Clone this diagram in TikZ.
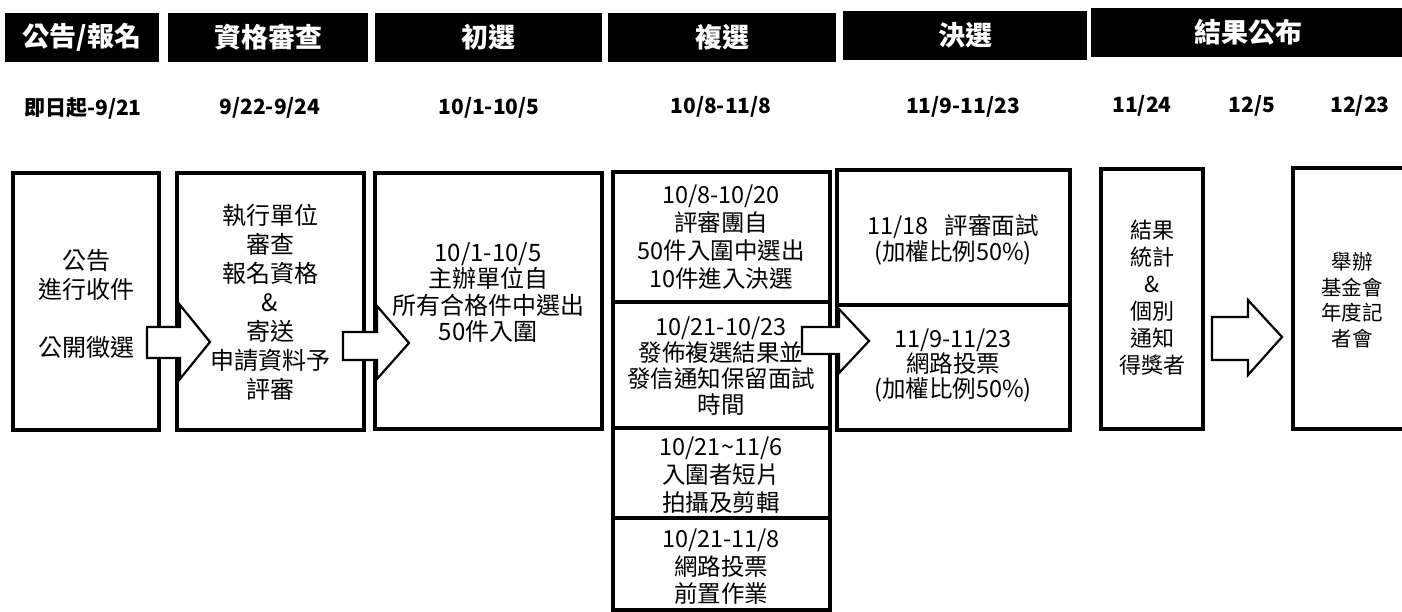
\documentclass[tikz,border=0pt]{standalone}
\usepackage{fontspec}
\setmainfont{Noto Sans CJK TC}
\begin{document}
\begin{tikzpicture}[x=1pt,y=-1pt,
  hdr/.style={fill=black, text=white, font=\bfseries\fontsize{27}{30}\selectfont, inner sep=0pt, outer sep=0pt},
  datelbl/.style={font=\bfseries\fontsize{21}{24}\selectfont, inner sep=0pt},
  box/.style={draw, line width=3.2pt, inner sep=0pt, outer sep=0pt},
  txt/.style={align=center, inner sep=0pt},
  blockarrow/.style={draw, fill=white, line width=2.2pt, line join=miter}]
\useasboundingbox (0,0) rectangle (1402,612);
\clip (0,0) rectangle (1402,612);
\fill[white] (0,0) rectangle (1402,612);
% header bars
\node[hdr, minimum width=154, minimum height=49] (h1) at (82,37.5) {公告/報名};
\node[hdr, minimum width=200, minimum height=49] (h2) at (268,37.5) {資格審查};
\node[hdr, minimum width=227, minimum height=49] (h3) at (488.5,37.5) {初選};
\node[hdr, minimum width=228, minimum height=49] (h4) at (722,37.5) {複選};
\node[hdr, minimum width=244, minimum height=49] (h5) at (965,35.5) {決選};
\node[hdr, minimum width=314, minimum height=49] (h6) at (1248,32.5) {結果公布};
% dates
\node[datelbl] (d1) at (83,108) {即日起-9/21};
\node[datelbl] (d2) at (270,108) {9/22-9/24};
\node[datelbl] (d3) at (489,108) {10/1-10/5};
\node[datelbl] (d4) at (721,107) {10/8-11/8};
\node[datelbl] (d5) at (963,107) {11/9-11/23};
\node[datelbl] (d6) at (1142,106) {11/24};
\node[datelbl] (d7) at (1252,106) {12/5};
\node[datelbl] (d8) at (1360,106) {12/23};
% boxes
\node[box, minimum width=146, minimum height=257] (b1) at (86,301.5) {};
\node[box, minimum width=187, minimum height=257] (b2) at (270.5,301.5) {};
\node[box, minimum width=227, minimum height=256] (b3) at (488.5,301) {};
\node[box, minimum width=217, minimum height=130] (b4a) at (721.5,237) {};
\node[box, minimum width=217, minimum height=126] (b4b) at (721.5,365) {};
\node[box, minimum width=217, minimum height=90] (b4c) at (721.5,473) {};
\node[box, minimum width=217, minimum height=92] (b4d) at (721.5,564) {};
\node[box, minimum width=233, minimum height=135] (b5a) at (953.5,237.5) {};
\node[box, minimum width=233, minimum height=125] (b5b) at (953.5,367.5) {};
\node[box, minimum width=102, minimum height=260] (b6) at (1152,299) {};
\node[box, minimum width=132, minimum height=261] (b7) at (1359,298.5) {};
% texts
\node[txt, font=\fontsize{24}{29}\selectfont] (t1) at (86,303.5) {公告\\進行收件\\[29pt]公開徵選};
\node[txt, font=\fontsize{24}{29}\selectfont] (t2) at (270,302) {執行單位\\審查\\報名資格\\\&\\寄送\\申請資料予\\評審};
\node[txt, font=\fontsize{24}{26.5}\selectfont] (t3) at (488,292.5) {10/1-10/5\\主辦單位自\\所有合格件中選出\\50件入圍};
\node[txt, font=\fontsize{23.5}{28}\selectfont] (t4a) at (721,237) {10/8-10/20\\評審團自\\50件入圍中選出\\10件進入決選};
\node[txt, font=\fontsize{23.5}{26}\selectfont] (t4b) at (721,366) {10/21-10/23\\發佈複選結果並\\發信通知保留面試\\時間};
\node[txt, font=\fontsize{23.5}{28}\selectfont] (t4c) at (721,475) {10/21\char"007E 11/6\\入圍者短片\\拍攝及剪輯};
\node[txt, font=\fontsize{23.5}{27.5}\selectfont] (t4d) at (721,567) {10/21-11/8\\網路投票\\前置作業};
\node[txt, font=\fontsize{23.5}{26}\selectfont] (t5a) at (953,240) {11/18\hspace{16pt}評審面試\\(加權比例50\%)};
\node[txt, font=\fontsize{23.5}{25}\selectfont] (t5b) at (953,365) {11/9-11/23\\網路投票\\(加權比例50\%)};
\node[txt, font=\fontsize{22}{27}\selectfont] (t6) at (1152,297.5) {結果\\統計\\\&\\個別\\通知\\得獎者};
\node[txt, font=\fontsize{20.5}{25.5}\selectfont] (t7) at (1352,300) {舉辦\\基金會\\年度記\\者會};
% block arrows
\draw[blockarrow] (147,327) -- (180,327) -- (180,305) -- (210,342) -- (180,379) -- (180,358) -- (147,358) -- cycle;
\draw[blockarrow] (343,332) -- (377,332) -- (377,306) -- (409,343) -- (377,379) -- (377,360) -- (343,360) -- cycle;
\draw[blockarrow] (802,327) -- (839,327) -- (839,309) -- (869,341) -- (839,373) -- (839,354) -- (802,354) -- cycle;
\draw[blockarrow] (1212,317) -- (1248,317) -- (1248,300) -- (1282,337) -- (1248,375) -- (1248,360) -- (1212,360) -- cycle;
\end{tikzpicture}
\end{document}
